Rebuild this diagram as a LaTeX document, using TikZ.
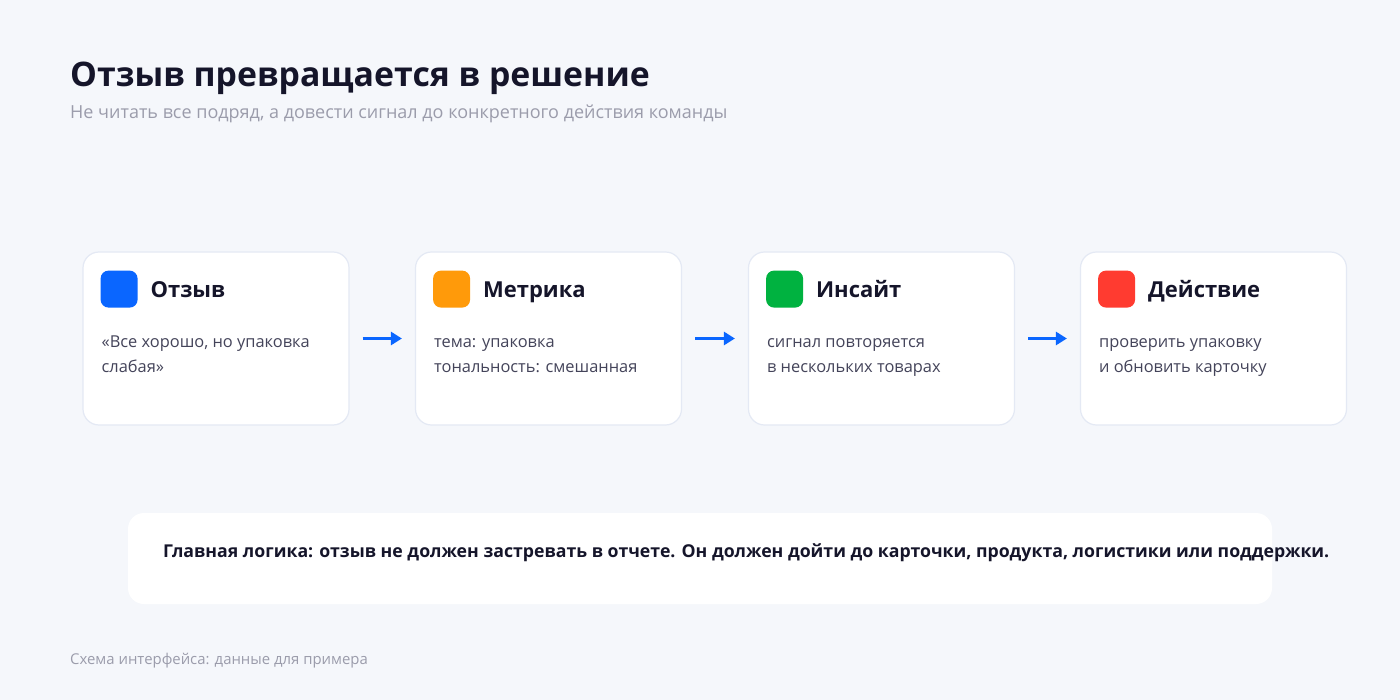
\documentclass[tikz,border=0pt]{standalone}
\usepackage{fontspec}
\setmainfont{Open Sans}
\usetikzlibrary{arrows.meta,calc}
\definecolor{bg}{HTML}{F5F7FB}
\definecolor{cardline}{HTML}{E4E9F4}
\definecolor{ink}{HTML}{15152A}
\definecolor{body}{HTML}{44445A}
\definecolor{muted}{HTML}{9B9CAB}
\definecolor{cblue}{HTML}{0A66FF}
\definecolor{corange}{HTML}{FF9A0A}
\definecolor{cgreen}{HTML}{00B240}
\definecolor{cred}{HTML}{FF3B30}
\tikzset{
  card/.style={draw=cardline, line width=1.2pt, fill=white, rounded corners=16pt,
    minimum width=266pt, minimum height=173pt, inner sep=0pt},
  icon/.style={rounded corners=8pt, minimum size=37pt, inner sep=0pt, anchor=north west},
  ctitle/.style={anchor=base west, inner sep=0pt, text=ink, font=\fontsize{22}{26}\selectfont\bfseries},
  cbody/.style={anchor=base west, inner sep=0pt, text=body, align=left, font=\fontsize{16.4}{25}\selectfont},
  arr/.style={draw=cblue, line width=3pt, -{Triangle[length=11pt,width=13pt]}, shorten <=13pt, shorten >=13pt},
}
\begin{document}
\begin{tikzpicture}[x=1pt,y=-1pt]
\fill[bg] (0,0) rectangle (1400,700);
\useasboundingbox (0,0) rectangle (1400,700);
\node[anchor=base west, inner sep=0pt, text=ink, font=\fontsize{33.8}{38}\selectfont\bfseries] (title) at (70,87) {Отзыв превращается в решение};
\node[anchor=base west, inner sep=0pt, text=muted, font=\fontsize{18}{22}\selectfont] (sub) at (70,119) {Не читать все подряд, а довести сигнал до конкретного действия команды};

\node[card] (c1) at (216,338.5) {};
\node[card] (c2) at (548.5,338.5) {};
\node[card] (c3) at (881.5,338.5) {};
\node[card] (c4) at (1213.5,338.5) {};

\foreach \c/\col/\t/\b in {c1/cblue/Отзыв/{«Все хорошо, но упаковка\\слабая»},
  c2/corange/Метрика/{тема: упаковка\\тональность: смешанная},
  c3/cgreen/Инсайт/{сигнал повторяется\\в нескольких товарах},
  c4/cred/Действие/{проверить упаковку\\и обновить карточку}}{
  \node[icon, fill=\col] (\c i) at ($(\c.north west)+(18,19)$) {};
  \node[ctitle] (\c t) at ($(\c.north west)+(68,46)$) {\t};
  \node[cbody] (\c b) at ($(\c.north west)+(19,121)$) {\b};
}

\draw[arr] (c1) -- (c2);
\draw[arr] (c2) -- (c3);
\draw[arr] (c3) -- (c4);

\node[fill=white, rounded corners=16pt, minimum width=1144pt, minimum height=91pt, inner sep=0pt] (note) at (700,558.5) {};
\node[anchor=base west, inner sep=0pt, text=ink, font=\fontsize{17.7}{22}\selectfont\bfseries] (notet) at (163,557) {Главная логика: отзыв не должен застревать в отчете. Он должен дойти до карточки, продукта, логистики или поддержки.};

\node[anchor=base west, inner sep=0pt, text=muted, font=\fontsize{14.9}{18}\selectfont] (foot) at (70,664) {Схема интерфейса: данные для примера};
\end{tikzpicture}
\end{document}
